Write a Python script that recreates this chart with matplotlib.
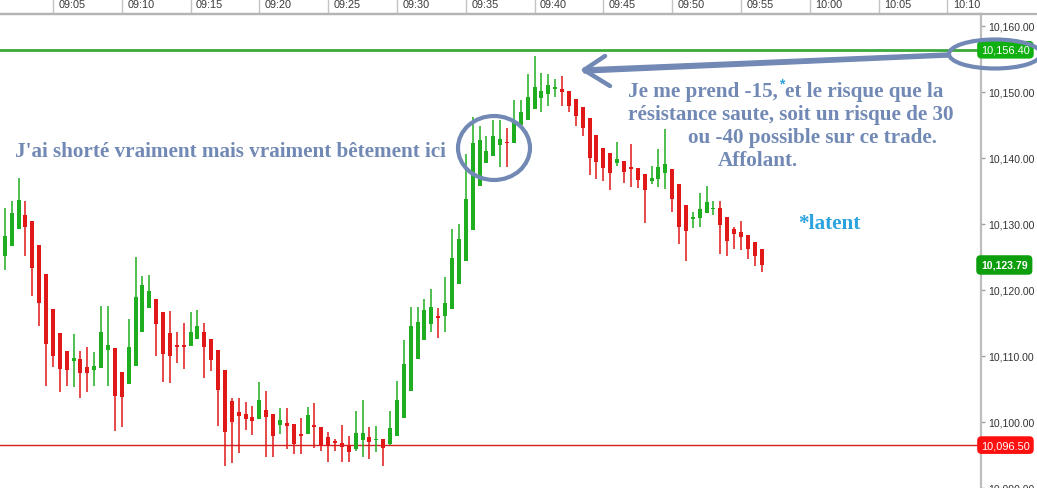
import numpy as np
import pandas as pd
import matplotlib
matplotlib.use("Agg")
import matplotlib.pyplot as plt
import matplotlib.transforms as mtransforms
from matplotlib.patches import Ellipse, Polygon

# 30-second candles, first one at 09:01:30
candle_start = "09:01:30"
opens = [10125.2, 10126.7, 10129.2, 10131.4, 10130.5, 10126.8, 10122.4, 10117.1, 10113.5, 10110.8,
         10109.3, 10109.5, 10108.4, 10107.9, 10108.2, 10110.9, 10111.2, 10107.6, 10105.8, 10108.5,
         10113.7, 10117.3, 10118.6, 10116.7, 10113.5, 10111.7, 10111.5, 10111.5, 10112.6, 10113.6,
         10112.5, 10110.9, 10107.9, 10103.2, 10101.5, 10101.2, 10100.8, 10100.4, 10101.8, 10101.2,
         10099.6, 10099.9, 10099.7, 10098.1, 10098.2, 10099.5, 10099.3, 10097.8, 10097.1, 10096.8,
         10096.5, 10095.9, 10097.2, 10097.8, 10097.2, 10097.4, 10096.7, 10097.9, 10100.6, 10104.7,
         10109.5, 10112.5, 10114.8, 10116.0, 10116.0, 10117.1, 10120.9, 10124.4, 10129.1, 10135.7,
         10139.3, 10140.3, 10141.9, 10142.4, 10142.3, 10145.0, 10145.8, 10147.4, 10149.1, 10149.7,
         10150.4, 10150.5, 10150.2, 10148.9, 10147.7, 10146.0, 10143.5, 10141.5, 10140.8, 10139.3,
         10139.5, 10138.7, 10138.5, 10137.6, 10136.5, 10136.8, 10137.7, 10138.3, 10136.1, 10132.9,
         10130.7, 10130.9, 10131.6, 10132.2, 10132.4, 10131.0, 10129.2, 10128.8, 10128.4, 10127.3,
         10126.2]
highs = [10132.5, 10133.5, 10137.0, 10133.5, 10130.5, 10126.8, 10122.4, 10117.1, 10113.5, 10110.8,
         10113.3, 10110.7, 10111.3, 10110.6, 10117.6, 10117.6, 10111.2, 10107.6, 10115.6, 10125.0,
         10122.1, 10122.3, 10118.6, 10116.7, 10116.8, 10113.6, 10115.0, 10116.7, 10117.0, 10115.0,
         10112.5, 10110.9, 10107.9, 10103.7, 10103.6, 10103.1, 10102.4, 10106.0, 10104.7, 10101.2,
         10102.1, 10102.1, 10099.7, 10100.6, 10102.3, 10102.9, 10099.3, 10098.5, 10097.5, 10099.5,
         10097.9, 10101.6, 10103.3, 10099.3, 10099.4, 10097.4, 10101.6, 10106.2, 10112.5, 10117.4,
         10117.4, 10118.7, 10120.2, 10117.2, 10121.9, 10129.2, 10130.0, 10140.6, 10146.2, 10144.8,
         10143.4, 10145.8, 10145.8, 10144.5, 10148.8, 10148.8, 10152.7, 10155.4, 10152.9, 10152.8,
         10152.0, 10152.5, 10150.2, 10148.9, 10147.7, 10146.0, 10143.5, 10141.5, 10140.8, 10142.4,
         10139.5, 10142.1, 10138.5, 10137.6, 10138.8, 10141.4, 10144.4, 10138.3, 10136.1, 10132.9,
         10131.8, 10134.7, 10135.7, 10133.5, 10133.5, 10131.0, 10129.6, 10130.4, 10128.4, 10127.3,
         10126.2]
lows = [10123.0, 10126.7, 10129.2, 10125.1, 10119.1, 10114.6, 10105.5, 10108.3, 10104.5, 10105.5,
        10105.3, 10103.6, 10104.6, 10105.5, 10108.2, 10105.4, 10098.7, 10099.2, 10105.8, 10108.5,
        10113.7, 10117.3, 10110.0, 10106.1, 10105.9, 10108.9, 10108.0, 10111.5, 10112.6, 10106.7,
        10107.8, 10099.4, 10093.4, 10093.8, 10095.3, 10098.8, 10098.0, 10100.4, 10094.7, 10094.7,
        10098.2, 10095.9, 10095.2, 10095.2, 10098.2, 10096.0, 10095.6, 10093.9, 10095.6, 10094.0,
        10094.0, 10095.6, 10094.7, 10094.4, 10095.4, 10093.4, 10096.5, 10097.9, 10100.6, 10104.7,
        10109.5, 10112.5, 10113.7, 10112.8, 10113.6, 10117.1, 10120.9, 10124.4, 10129.1, 10135.7,
        10139.3, 10140.3, 10138.7, 10138.7, 10142.3, 10145.0, 10145.8, 10147.4, 10147.0, 10147.9,
        10149.3, 10147.9, 10146.9, 10144.9, 10143.4, 10137.5, 10136.8, 10136.5, 10135.1, 10138.8,
        10136.2, 10135.6, 10135.5, 10130.2, 10136.1, 10135.6, 10135.3, 10131.8, 10127.0, 10124.4,
        10129.4, 10129.5, 10131.6, 10131.4, 10125.5, 10125.1, 10126.2, 10126.0, 10124.7, 10123.7,
        10122.7]
closes = [10128.2, 10131.7, 10133.6, 10129.5, 10123.3, 10118.0, 10111.8, 10110.0, 10108.0, 10107.9,
          10109.7, 10107.4, 10107.4, 10108.5, 10113.6, 10111.7, 10104.0, 10103.8, 10111.3, 10118.9,
          10120.8, 10119.9, 10114.9, 10110.3, 10110.0, 10111.3, 10111.3, 10113.7, 10114.6, 10111.4,
          10109.4, 10104.9, 10098.5, 10100.0, 10100.9, 10100.4, 10100.2, 10103.3, 10100.7, 10097.9,
          10100.3, 10099.4, 10096.7, 10097.9, 10101.0, 10099.3, 10096.3, 10096.3, 10096.8, 10096.2,
          10095.4, 10098.4, 10098.3, 10097.0, 10097.4, 10096.0, 10099.1, 10103.3, 10108.8, 10114.5,
          10115.1, 10117.0, 10117.4, 10115.8, 10118.0, 10124.8, 10127.8, 10133.8, 10142.3, 10142.7,
          10141.1, 10143.4, 10142.9, 10142.2, 10145.5, 10147.0, 10149.2, 10150.7, 10150.2, 10151.1,
          10150.6, 10150.0, 10147.9, 10146.4, 10144.6, 10140.0, 10139.4, 10138.5, 10137.8, 10139.9,
          10137.9, 10138.4, 10136.7, 10135.2, 10137.0, 10138.6, 10139.1, 10133.8, 10129.6, 10128.9,
          10130.9, 10132.3, 10133.3, 10132.4, 10129.8, 10127.5, 10128.5, 10128.0, 10126.2, 10125.1,
          10123.79]

time_labels = ["09:05", "09:10", "09:15", "09:20", "09:25", "09:30", "09:35",
               "09:40", "09:45", "09:50", "09:55", "10:00", "10:05", "10:10"]
price_ticks = [10090, 10100, 10110, 10120, 10130, 10140, 10150, 10160]
resistance = 10156.40
support = 10096.50
last_price = closes[-1]

GREEN = "#1fae1f"
RED = "#e01818"
NOTE = "#7189b4"
CYAN = "#2aa3de"
W, H = 1037, 489

def minutes(t):
    """minutes after 09:00"""
    d = pd.Timestamp("2000-01-01 " + t) - pd.Timestamp("2000-01-01 09:00")
    return d.total_seconds() / 60.0

times = pd.date_range("2000-01-01 " + candle_start, periods=len(closes), freq="30s")
x = np.array([(t - pd.Timestamp("2000-01-01 09:00")).total_seconds() / 60.0 for t in times])
o = np.array(opens)
h = np.array(highs)
l = np.array(lows)
c = np.array(closes)
up = c >= o

fig = plt.figure(figsize=(W / 100, H / 100), dpi=100)
ax = fig.add_axes([0, 0, 981 / W, 1 - 15 / H])

# candles
col = np.where(up, GREEN, RED)
ax.vlines(x, l, h, colors=col, linewidth=1.1, zorder=2)
body_lo = np.minimum(o, c)
body_h = np.maximum(np.abs(c - o), 0.3)
ax.bar(x, body_h, bottom=body_lo, width=0.29, color=col, linewidth=0, zorder=3)

# levels
ax.axhline(resistance, color="#3aa93a", linewidth=2, zorder=1)
ax.axhline(support, color="#d42020", linewidth=1, zorder=1)

px_per_min = 68.8 / 5
x0 = x[0] - 4.8 / px_per_min
ax.set_xlim(x0, x0 + 981 / px_per_min)
ax.set_ylim(10090.0, 10160 + 12 / 6.6)

# axes styling
for s in ["left", "bottom"]:
    ax.spines[s].set_visible(False)
ax.spines["top"].set_color("#b4b4b4")
ax.spines["top"].set_linewidth(1.6)
ax.spines["right"].set_color("#bdbdbd")
ax.spines["right"].set_linewidth(1.6)

ax.set_xticks([minutes(t) for t in time_labels])
ax.tick_params(axis="x", top=True, bottom=False, labeltop=False, labelbottom=False,
               length=10.8, width=1, color="#c4c4c4", direction="out")
lab_tr = mtransforms.offset_copy(mtransforms.blended_transform_factory(ax.transData, ax.transAxes),
                                 fig=fig, x=5.5, y=7.5, units="dots")
for t in time_labels:
    ax.text(minutes(t), 1, t, transform=lab_tr, ha="left", va="baseline",
            fontsize=7.8, family="Liberation Sans", color="#3a3a3a", clip_on=False)

ax.yaxis.tick_right()
ax.set_yticks(price_ticks)
ax.set_yticklabels([f"{v:,.2f}" for v in price_ticks])
ax.tick_params(axis="y", length=3, width=1, color="#a0a0a0", pad=2,
               labelsize=7.6, labelcolor="#333333")
for lbl in ax.get_yticklabels():
    lbl.set_family("Liberation Sans")

# price tags on the right axis
tag_tr = mtransforms.blended_transform_factory(ax.transAxes, ax.transData)
ax.text(1.0, resistance, f"{resistance:,.2f}", transform=tag_tr, ha="left", va="center",
        color="white", fontsize=7.9, family="Liberation Sans", clip_on=False, zorder=5,
        bbox=dict(boxstyle="round,pad=0.35,rounding_size=0.4", fc="#10b010", ec="none"))
ax.text(1.0, support, f"{support:,.2f}", transform=tag_tr, ha="left", va="center",
        color="white", fontsize=7.9, family="Liberation Sans", clip_on=False, zorder=5,
        bbox=dict(boxstyle="round,pad=0.35,rounding_size=0.4", fc="#ff1010", ec="none"))
ax.text(1.0, last_price, f"{last_price:,.2f}", transform=tag_tr, ha="left", va="center",
        color="white", fontsize=7.6, family="Liberation Sans", fontweight="bold",
        clip_on=False, zorder=5,
        bbox=dict(boxstyle="round,pad=0.45,rounding_size=0.4", fc="#0c9e0c", ec="none"))

# hand-drawn notes, in pixel coordinates
ov = fig.add_axes([0, 0, 1, 1], zorder=10)
ov.set_xlim(0, W)
ov.set_ylim(H, 0)
ov.axis("off")
ov.patch.set_alpha(0)

ov.plot([0, W], [15, 15], color="#b4b4b4", linewidth=1.6, solid_capstyle="butt")

serif = dict(family="Liberation Serif", fontweight="bold", color=NOTE, fontsize=15.2)
ov.text(15, 152, "J'ai shorté vraiment mais vraiment bêtement ici", ha="left", va="center", **serif)
t1 = ov.text(628, 92, "Je me prend -15,", ha="left", va="center", **serif)
ov.annotate("*", xy=(1, 1), xycoords=t1, xytext=(2.5, -2), textcoords="offset points",
            ha="center", va="center", family="Liberation Sans", fontweight="bold",
            color=CYAN, fontsize=10)
ov.annotate("et le risque que la", xy=(1, 0.5), xycoords=t1, xytext=(5, 0),
            textcoords="offset points", ha="left", va="center", **serif)
ov.text(628, 115, "résistance saute, soit un risque de 30", ha="left", va="center", **serif)
ov.text(688, 138, "ou -40 possible sur ce trade.", ha="left", va="center", **serif)
ov.text(718, 161, "Affolant.", ha="left", va="center", **serif)
ov.text(798, 224, "*latent", ha="left", va="center", family="Liberation Serif",
        fontweight="bold", color=CYAN, fontsize=15.2)

ov.add_patch(Ellipse((494, 149), 72, 64, fill=False, ec=NOTE, lw=3))
ov.add_patch(Ellipse((995, 55), 92, 29, fill=False, ec=NOTE, lw=3))
ov.add_patch(Polygon([(584, 69), (948, 54), (948, 58), (584, 74)], closed=True,
                     fc=NOTE, ec=NOTE, lw=1))
ov.plot([605, 584, 610], [57, 71, 87], color=NOTE, lw=3.2, solid_capstyle="round",
        solid_joinstyle="round")

fig.savefig("out.png", dpi=100)
